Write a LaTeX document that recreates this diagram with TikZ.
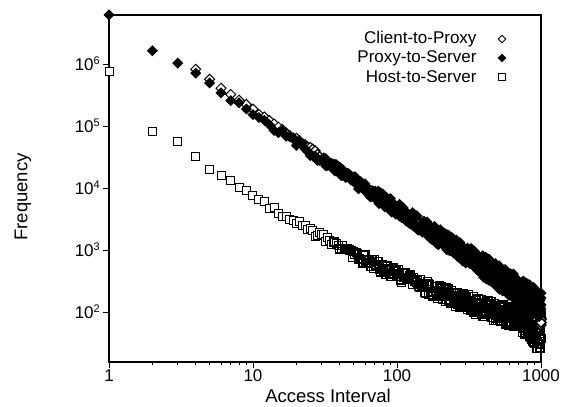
\documentclass[tikz,border=0pt]{standalone}
\usepackage{fontspec}
\setmainfont{Liberation Sans}
\newcommand\lblfont{\fontsize{17}{20}\selectfont}
\newcommand\supfont{\fontsize{11}{12}\selectfont}
\newcommand\ttlfont{\fontsize{18.5}{21}\selectfont}
% y = 62*log10(value) - 30 ; x = 109 + 144*log10(interval)
\newcommand\hostcalc[1]{%
  \pgfmathsetmacro\hLX{log10(#1)}%
  \pgfmathsetmacro\hD{max(0,\hLX-2.8)}%
  \pgfmathsetmacro\hLY{3.89-1.503*(\hLX-1)+0.233*(\hLX-1)*(\hLX-1)-4*\hD*\hD+(0.02+0.019*\hLX*\hLX+0.8*max(0,\hLX-2.85))*rand}}
\newcommand\hostpt[1]{\hostcalc{#1}%
  \path[sqmk] ({109+144*\hLX},{62*\hLY-30}) +(-4,-4) rectangle +(4,4);}
\newcommand\hostfill[1]{\hostcalc{#1}%
  \fill[white] ({109+144*\hLX},{62*\hLY-30}) +(-4,-4) rectangle +(4,4);}
\newcommand\hostline[1]{\hostcalc{#1}%
  \draw[sqline] ({109+144*\hLX},{62*\hLY-30}) +(-4,-4) rectangle +(4,4);}
\newcommand\clientpt[1]{%
  \pgfmathsetmacro\cLX{log10(#1)}%
  \pgfmathsetmacro\cA{max(0,\cLX-2.75)}%
  \pgfmathsetmacro\cW{1+0.6*min(1,max(0,(\cLX-1.3)/0.6))}%
  \pgfmathsetmacro\cLY{6.75-1.54*\cLX+0.08-0.1*min(1,max(0,\cLX-1))-0.12*max(0,\cLX-2.5)-1.5*\cA*\cA+(0.01+0.012*\cLX*\cLX+0.6*max(0,\cLX-2.9))*rand}%
  \path[odmk,line width=\cW pt] ({109+144*\cLX},{62*\cLY-30}) +(0,5) -- +(5,0) -- +(0,-5) -- +(-5,0) -- cycle;}
\newcommand\proxypt[1]{%
  \pgfmathsetmacro\pLX{log10(#1)}%
  \pgfmathsetmacro\pLY{6.75-1.54*\pLX+(0.014+0.024*\pLX*\pLX)*rand}%
  \path[fdmk] ({109+144*\pLX},{62*\pLY-30}) +(0,5.5) -- +(5.5,0) -- +(0,-5.5) -- +(-5.5,0) -- cycle;}
\newcommand\runseries[2]{%
  \foreach \i in {#1,...,100}{#2{\i}}%
  \foreach \i in {102,104,...,300}{#2{\i}}%
  \foreach \i in {303,306,...,999}{#2{\i}}%
  #2{1000}}
\begin{document}
\begin{tikzpicture}[x=1pt,y=1pt,
  sqmk/.style={draw=black,fill=white,line width=1pt},
  sqline/.style={draw=black,line width=1.2pt},
  odmk/.style={draw=black,fill=white,line width=1pt},
  fdmk/.style={fill=black},
  axisline/.style={line width=1.3pt},
  tickmark/.style={line width=1pt},
  ticklbl/.style={font=\lblfont},
  lgtext/.style={font=\lblfont,anchor=east}]
\useasboundingbox (0,0) rectangle (563,407);
% frame
\draw[axisline] (109,45) rectangle (541,392);
% y ticks and labels
\foreach \k/\nm in {2/ya,3/yb,4/yc,5/yd,6/ye}{
  \pgfmathsetmacro\yy{62*\k-30}
  \draw[tickmark] (103,\yy) -- (109,\yy);
  \node[ticklbl,anchor=base east,inner sep=0pt] (\nm) at (100,\yy-6) {10\raisebox{6.5pt}{\supfont\k}};
}
% x ticks
\foreach \d in {0,1,2}{
  \foreach \m in {2,...,9}{
    \pgfmathsetmacro\xx{109+144*(\d+log10(\m))}
    \draw[tickmark] (\xx,45) -- (\xx,41.5);
  }
}
\foreach \d/\lab/\nm in {0/1/xa,1/10/xb,2/100/xc,3/1000/xd}{
  \pgfmathsetmacro\xx{109+144*\d}
  \draw[tickmark] (\xx,45) -- (\xx,39);
  \node[ticklbl,anchor=base,inner sep=0pt] (\nm) at (\xx,25) {\lab};
}
% axis titles
\node[font=\ttlfont] (xtitle) at (328,11) {Access Interval};
\node[font=\ttlfont,rotate=90] (ytitle) at (23,210) {Frequency};
% Host-to-Server
\foreach \v/\w in {1/5.9,2/4.92,3/4.76,4/4.53,5/4.32,6/4.21,7/4.13,8/4.03,9/3.97,10/3.89}{
  \path[sqmk] ({109+144*log10(\v)},{62*\w-30}) +(-4,-4) rectangle +(4,4);
}
\pgfmathsetseed{777}
\foreach \i in {11,...,35}{\hostpt{\i}}
\pgfmathsetseed{4242}
\runseries{36}{\hostfill}
\pgfmathsetseed{4242}
\runseries{36}{\hostline}
% Client-to-Proxy
\pgfmathsetseed{12345}
\foreach \v/\w in {4/5.93,5/5.77}{
  \path[odmk] ({109+144*log10(\v)},{62*\w-30}) +(0,5) -- +(5,0) -- +(0,-5) -- +(-5,0) -- cycle;
}
\runseries{6}{\clientpt}
% Proxy-to-Server
\foreach \v/\w in {1/6.81,2/6.23,3/6.03,4/5.87,5/5.71}{
  \path[fdmk] ({109+144*log10(\v)},{62*\w-30}) +(0,5.5) -- +(5.5,0) -- +(0,-5.5) -- +(-5.5,0) -- cycle;
}
\runseries{6}{\proxypt}
% legend
\node[lgtext] (lc) at (480,368) {Client-to-Proxy};
\node[lgtext] (lp) at (480,349) {Proxy-to-Server};
\node[lgtext] (lh) at (480,330) {Host-to-Server};
\path[odmk,line width=0.9pt] (502,368) +(0,3.8) -- +(3.8,0) -- +(0,-3.8) -- +(-3.8,0) -- cycle;
\path[fdmk] (502,349) +(0,4.3) -- +(4.3,0) -- +(0,-4.3) -- +(-4.3,0) -- cycle;
\path[sqmk,line width=0.9pt] (502,330) +(-3.2,-3.2) rectangle +(3.2,3.2);
\end{tikzpicture}
\end{document}
